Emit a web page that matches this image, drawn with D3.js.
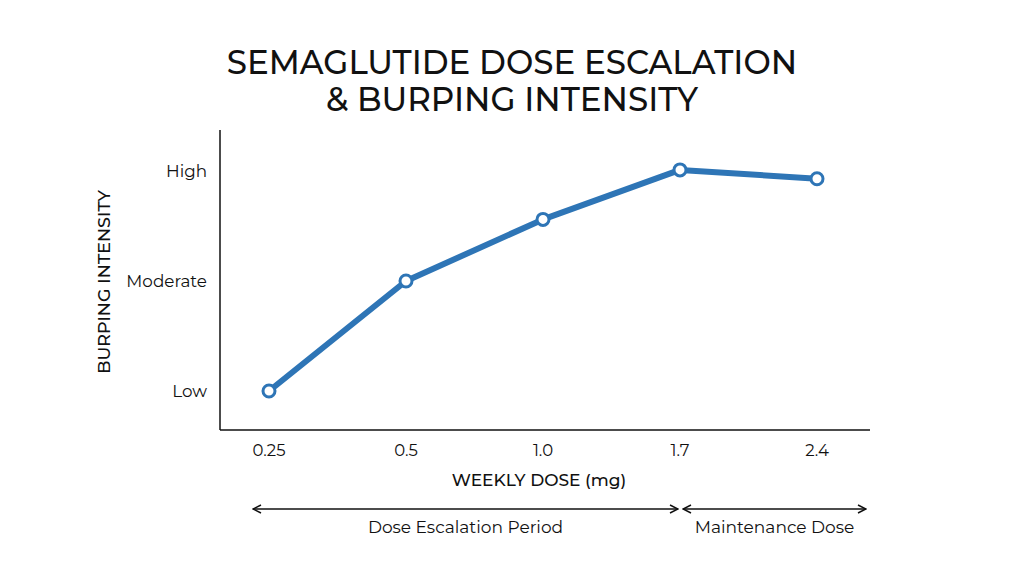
<!DOCTYPE html>
<html>
<head>
<meta charset="utf-8">
<script src="https://cdn.jsdelivr.net/npm/d3@7"></script>
<style>
  body { margin: 0; background: #fff; }
  text { font-family: "Montserrat", "Lato", "Open Sans", sans-serif; fill: #111; }
</style>
</head>
<body>
<div id="chart"></div>
<script>
const doses      = ["0.25", "0.5", "1.0", "1.7", "2.4"];
const intensity  = [1.0, 2.0, 2.56, 3.01, 2.93];
const levels     = ["Low", "Moderate", "High"];
const levelVals  = [1, 2, 3];
const periods    = ["Dose Escalation Period", "Maintenance Dose"];
const periodFrom = ["0.25", "1.7"];
const periodTo   = ["1.7", "2.4"];

const W = 1024, H = 572;
const LINE_COLOR = "#2e75b6";

const svg = d3.select("#chart").append("svg")
  .attr("width", W).attr("height", H);

const x = d3.scalePoint().domain(doses).range([269, 817]);
const y = d3.scaleLinear().domain([1, 3]).range([391, 171]);

const AX_LEFT = 220, AX_RIGHT = 870, AX_TOP = 130, AX_BOTTOM = 430;

// Title
["SEMAGLUTIDE DOSE ESCALATION", "& BURPING INTENSITY"].forEach((t, i) => {
  svg.append("text")
    .attr("x", 512).attr("y", 74 + i * 37)
    .attr("text-anchor", "middle")
    .style("font-size", "32.5px").style("font-weight", 500)
    .text(t);
});

// Axes lines
svg.append("line")
  .attr("x1", AX_LEFT).attr("x2", AX_LEFT)
  .attr("y1", AX_TOP).attr("y2", AX_BOTTOM)
  .attr("stroke", "#111").attr("stroke-width", 1.5);
svg.append("line")
  .attr("x1", AX_LEFT).attr("x2", AX_RIGHT)
  .attr("y1", AX_BOTTOM).attr("y2", AX_BOTTOM)
  .attr("stroke", "#111").attr("stroke-width", 1.5);

// Y tick labels
svg.selectAll(".ylab")
  .data(levelVals)
  .enter().append("text")
  .attr("class", "ylab")
  .attr("x", 207)
  .attr("y", d => y(d))
  .attr("dy", "0.35em")
  .attr("text-anchor", "end")
  .style("font-size", "16.8px")
  .text((d, i) => levels[i]);

// X tick labels
svg.selectAll(".xlab")
  .data(doses)
  .enter().append("text")
  .attr("class", "xlab")
  .attr("x", d => x(d))
  .attr("y", 456)
  .attr("text-anchor", "middle")
  .style("font-size", "16.5px")
  .text(d => d);

// Axis titles
svg.append("text")
  .attr("x", 539).attr("y", 486)
  .attr("text-anchor", "middle")
  .style("font-size", "17px").style("font-weight", 500)
  .text("WEEKLY DOSE (mg)");
svg.append("text")
  .attr("transform", "translate(110, 282) rotate(-90)")
  .attr("text-anchor", "middle")
  .style("font-size", "17.5px").style("font-weight", 500)
  .text("BURPING INTENSITY");

// Line
const pts = doses.map((d, i) => [x(d), y(intensity[i])]);
svg.append("path")
  .attr("d", d3.line()(pts))
  .attr("fill", "none")
  .attr("stroke", LINE_COLOR)
  .attr("stroke-width", 6)
  .attr("stroke-linejoin", "round");

svg.selectAll(".pt")
  .data(pts)
  .enter().append("circle")
  .attr("class", "pt")
  .attr("cx", d => d[0]).attr("cy", d => d[1])
  .attr("r", 6)
  .attr("fill", "#fff")
  .attr("stroke", LINE_COLOR)
  .attr("stroke-width", 3);

// Period arrows
const defs = svg.append("defs");
defs.append("marker")
  .attr("id", "arrow")
  .attr("viewBox", "0 0 10 10")
  .attr("refX", 9).attr("refY", 5)
  .attr("markerWidth", 10).attr("markerHeight", 10)
  .attr("markerUnits", "userSpaceOnUse")
  .attr("orient", "auto-start-reverse")
  .append("path")
  .attr("d", "M1,1 L9,5 L1,9")
  .attr("fill", "none")
  .attr("stroke", "#111")
  .attr("stroke-width", 1.5);

const ARROW_Y = 509;
const startOff = [-16, 3];
const endOff   = [-2, 49];
periods.forEach((p, i) => {
  const x1 = x(periodFrom[i]) + startOff[i];
  const x2 = x(periodTo[i]) + endOff[i];
  svg.append("line")
    .attr("x1", x1).attr("x2", x2)
    .attr("y1", ARROW_Y).attr("y2", ARROW_Y)
    .attr("stroke", "#111").attr("stroke-width", 1.5)
    .attr("marker-start", "url(#arrow)")
    .attr("marker-end", "url(#arrow)");
  svg.append("text")
    .attr("x", (x1 + x2) / 2).attr("y", 533)
    .attr("text-anchor", "middle")
    .style("font-size", "17px")
    .text(p);
});
</script>
</body>
</html>
